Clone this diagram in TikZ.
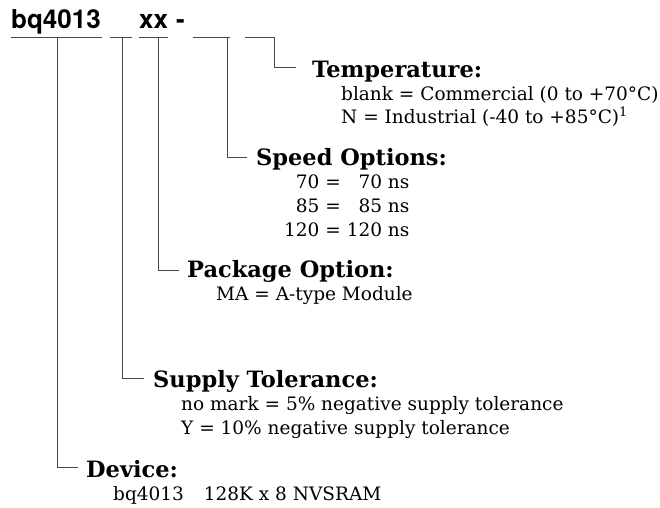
\documentclass[tikz,border=0pt]{standalone}
\usepackage{fontspec}
\setmainfont{DejaVu Serif}
\newfontfamily\titlefont{TeX Gyre Heros}
\begin{document}
\begin{tikzpicture}[x=1pt,y=-1pt,
  conn/.style={draw=black!72,line width=0.8pt},
  head/.style={anchor=base west,inner sep=0pt,font=\bfseries\fontsize{22.5}{26}\selectfont},
  body/.style={anchor=base west,inner sep=0pt,font=\fontsize{18.5}{23}\selectfont},
  title/.style={anchor=base west,inner sep=0pt,font=\titlefont\bfseries\fontsize{26}{30}\selectfont}]
\useasboundingbox (0,0) rectangle (660,507);
% title
\node[title] (t1) at (11,28) {bq4013};
\node[title] (t2) at (139,28) {xx};
\node[title] (t3) at (176,28) {-};
% coordinates
\coordinate (u1a) at (11,37);  \coordinate (u1b) at (102,37); \coordinate (u1m) at (57,37);  \coordinate (d1) at (78,467);
\coordinate (u2a) at (110,37); \coordinate (u2b) at (132,37); \coordinate (u2m) at (122,37); \coordinate (d2) at (144,378);
\coordinate (u3a) at (139,37); \coordinate (u3b) at (168,37); \coordinate (u3m) at (158,37); \coordinate (d3) at (179,270);
\coordinate (u4a) at (193,37); \coordinate (u4b) at (230,37); \coordinate (u4m) at (227,37); \coordinate (d4) at (247,157);
\coordinate (u5a) at (245,37); \coordinate (u5b) at (274,37); \coordinate (d5) at (296,67);
\draw[conn] (u1a) -- (u1b);
\draw[conn] (u2a) -- (u2b);
\draw[conn] (u3a) -- (u3b);
\draw[conn] (u4a) -- (u4b);
\draw[conn] (u5a) -- (u5b) |- (d5);
\draw[conn] (u1m) |- (d1);
\draw[conn] (u2m) |- (d2);
\draw[conn] (u3m) |- (d3);
\draw[conn] (u4m) |- (d4);
% Temperature
\node[head] (temp) at (312,77) {Temperature:};
\node[body] (temp1) at (341,100) {blank = Commercial (0 to +70°C)};
\node[body] (temp2) at (341,123) {N = Industrial (-40 to +85°C)\textsuperscript{1}};
% Speed
\node[head] (speed) at (256,165) {Speed Options:};
\node[body] (sp1) at (284,188) {\phantom{1}70 = \phantom{1}70 ns};
\node[body] (sp2) at (284,212) {\phantom{1}85 = \phantom{1}85 ns};
\node[body] (sp3) at (284,236) {120 = 120 ns};
% Package
\node[head] (pkg) at (187,277) {Package Option:};
\node[body] (pkg1) at (216,300) {MA = A-type Module};
% Supply
\node[head] (sup) at (153,387) {Supply Tolerance:};
\node[body] (sup1) at (181,410) {no mark = 5\% negative supply tolerance};
\node[body] (sup2) at (181,434) {Y = 10\% negative supply tolerance};
% Device
\node[head] (dev) at (86,477) {Device:};
\node[body] (dev1) at (113,500) {bq4013\hspace{20pt}128K x 8 NVSRAM};
\end{tikzpicture}
\end{document}
